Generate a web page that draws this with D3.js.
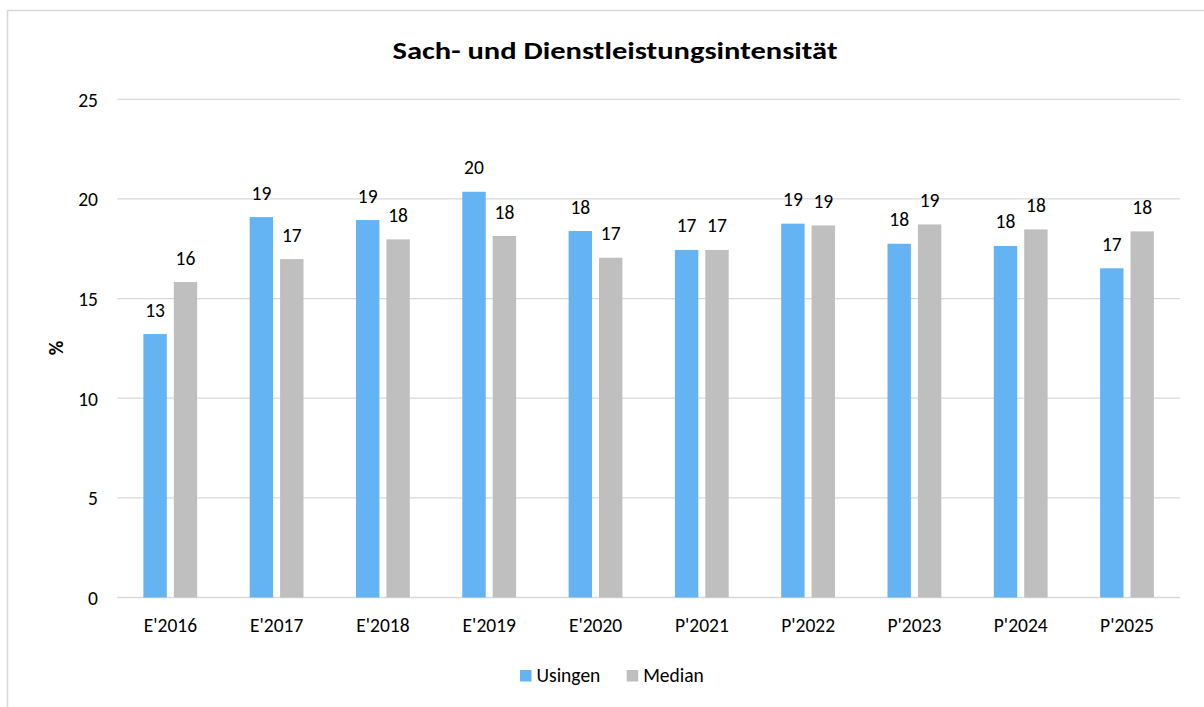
<!DOCTYPE html>
<html>
<head>
<meta charset="utf-8">
<script src="https://cdn.jsdelivr.net/npm/d3@7"></script>
<style>
  body { margin: 0; background: #fff; }
  svg { display: block; }
  text { font-family: Carlito, Calibri, Lato, sans-serif; fill: #000; }
</style>
</head>
<body>
<svg id="chart"></svg>
<script>
// chart data
var categories = ["E'2016", "E'2017", "E'2018", "E'2019", "E'2020", "P'2021", "P'2022", "P'2023", "P'2024", "P'2025"];
var usingen = [13.22, 19.09, 18.94, 20.36, 18.39, 17.44, 18.76, 17.75, 17.64, 16.52];
var median = [15.83, 16.98, 17.97, 18.14, 17.05, 17.44, 18.67, 18.72, 18.47, 18.37];
var seriesNames = ["Usingen", "Median"];
var yTicks = [0, 5, 10, 15, 20, 25];
var chartTitle = "Sach- und Dienstleistungsintensität";
var yTitle = "%";

var colors = { Usingen: "#64b4f4", Median: "#bfbfbf" };

var screen = { width: 1204, height: 707 };
var plot = { left: 117.2, right: 1180.2, top: 99.3, bottom: 597.5 };
var fontSize = 19.5;

var svg = d3.select("#chart")
  .attr("width", screen.width)
  .attr("height", screen.height);

// outer chart border (runs off the right/bottom edge like the reference)
svg.append("rect")
  .attr("x", 7.5).attr("y", 10.5)
  .attr("width", 1230).attr("height", 720)
  .attr("fill", "none")
  .attr("stroke", "#d9d9d9")
  .attr("stroke-width", 1.5);

var xScale = d3.scaleBand()
  .domain(categories)
  .range([plot.left, plot.right])
  .padding(0);

var inner = d3.scaleBand()
  .domain(seriesNames)
  .range([26.2, 80.0])
  .paddingInner(0.23);

var yScale = d3.scaleLinear()
  .domain([0, 25])
  .range([plot.bottom, plot.top]);

// gridlines
svg.append("g").classed("grid", true)
  .selectAll("line")
  .data(yTicks)
  .enter().append("line")
  .attr("x1", plot.left).attr("x2", plot.right)
  .attr("y1", function(d) { return yScale(d); })
  .attr("y2", function(d) { return yScale(d); })
  .attr("stroke", "#d9d9d9")
  .attr("stroke-width", 1.3);

// y axis labels
var yAxis = d3.axisLeft(yScale).tickValues(yTicks).tickSize(0).tickPadding(0);
var yA = svg.append("g").classed("yAxis", true)
  .attr("transform", "translate(98,0)")
  .call(yAxis);
yA.select(".domain").remove();
yA.selectAll("text")
  .attr("font-size", fontSize)
  .attr("font-family", null)
  .attr("fill", "#000")
  .attr("dy", "0.36em");

// x axis labels
var xAxis = d3.axisBottom(xScale).tickSize(0).tickPadding(0);
var xA = svg.append("g").classed("xAxis", true)
  .attr("transform", "translate(0,632)")
  .call(xAxis);
xA.select(".domain").remove();
xA.selectAll("text")
  .attr("font-size", fontSize)
  .attr("font-family", null)
  .attr("fill", "#000")
  .attr("dy", 0);

// bars
var rows = categories.map(function(c, i) {
  return { cat: c, values: [ { name: "Usingen", v: usingen[i] }, { name: "Median", v: median[i] } ] };
});

var groups = svg.append("g").classed("bars", true)
  .selectAll("g")
  .data(rows)
  .enter().append("g")
  .attr("transform", function(d) { return "translate(" + xScale(d.cat) + ",0)"; });

groups.selectAll("rect")
  .data(function(d) { return d.values; })
  .enter().append("rect")
  .attr("x", function(d) { return inner(d.name); })
  .attr("width", inner.bandwidth())
  .attr("y", function(d) { return yScale(d.v); })
  .attr("height", function(d) { return yScale(0) - yScale(d.v); })
  .attr("fill", function(d) { return colors[d.name]; });

groups.selectAll("text")
  .data(function(d) { return d.values; })
  .enter().append("text")
  .attr("x", function(d) { return inner(d.name) + inner.bandwidth() / 2; })
  .attr("y", function(d) { return yScale(d.v) - 17.5; })
  .attr("text-anchor", "middle")
  .attr("font-size", fontSize)
  .text(function(d) { return Math.round(d.v); });

// title
svg.append("text")
  .attr("x", 615).attr("y", 58.5)
  .attr("text-anchor", "middle")
  .attr("font-size", 25)
  .attr("font-weight", "bold")
  .attr("textLength", 445)
  .attr("lengthAdjust", "spacingAndGlyphs")
  .text(chartTitle);

// y title
svg.append("text")
  .attr("transform", "translate(63,348) rotate(-90)")
  .attr("text-anchor", "middle")
  .attr("font-size", 20)
  .attr("font-weight", "bold")
  .text(yTitle);

// legend
var legend = svg.append("g").classed("legend", true);
var legendX = [520, 626.7];
seriesNames.forEach(function(s, i) {
  legend.append("rect")
    .attr("x", legendX[i]).attr("y", 670)
    .attr("width", 11.5).attr("height", 11.5)
    .attr("fill", colors[s]);
  legend.append("text")
    .attr("x", legendX[i] + 16.5).attr("y", 682)
    .attr("font-size", fontSize)
    .text(s);
});
</script>
</body>
</html>
